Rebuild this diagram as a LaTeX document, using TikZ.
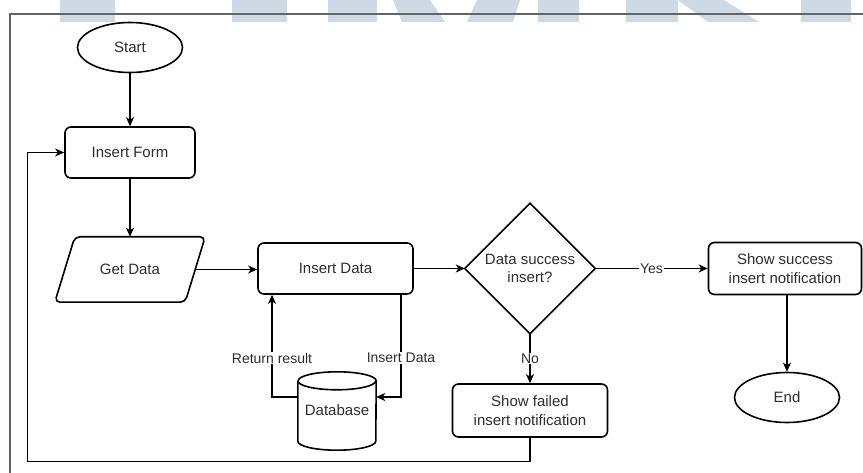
\documentclass[tikz,border=0pt]{standalone}
\usepackage{fontspec}
\setmainfont{Liberation Sans}
\usetikzlibrary{arrows.meta,calc,shapes.geometric}
\definecolor{wm}{RGB}{205,217,228}
\definecolor{txt}{RGB}{45,45,45}
\definecolor{framec}{RGB}{100,100,100}
\newcommand\myNodeFont{\fontsize{15}{18.5}\selectfont}
\newcommand\myLblFont{\fontsize{14}{16}\selectfont}
\begin{document}
\begin{tikzpicture}[x=1pt,y=-1pt,
  shapeline/.style={draw=black, line width=1.6pt},
  procbox/.style={shapeline, rounded corners=6pt, align=center, inner sep=0pt,
    font=\myNodeFont, text=txt},
  term/.style={ellipse, shapeline, align=center, inner sep=0pt,
    minimum width=105pt, minimum height=50pt, font=\myNodeFont, text=txt},
  ghost/.style={inner sep=0pt, align=center, font=\myNodeFont, text=txt},
  conn/.style={draw=black, line width=1.1pt, -{Stealth[length=9pt,width=8pt,inset=2.5pt]}},
  plainline/.style={draw=black, line width=1.1pt},
  lbl/.style={fill=white, inner sep=1pt, font=\myLblFont, text=txt}]
\useasboundingbox (0,0) rectangle (863,473);
% watermark
\fill[wm] (60,0) rectangle (115,22);
\fill[wm] (232,0) rectangle (287,22);
\fill[wm] (328,0) rectangle (377,22);
\fill[wm] (393,0) -- (430,0) -- (445,22) -- (402,22) -- cycle;
\fill[wm] (477,0) -- (520,0) -- (513,22) -- (467,22) -- cycle;
\fill[wm] (538,0) rectangle (579,22);
\fill[wm] (626,0) rectangle (678,22);
\fill[wm] (678,0) -- (724,0) -- (759,22) -- (708,22) -- cycle;
\fill[wm] (801,0) rectangle (851,22);
% frame
\draw[framec, line width=1.4pt] (863,14) -- (10,14) -- (10,473);

% nodes
\node[term] (start) at (130,47.5) {Start};
\node[procbox, minimum width=130pt, minimum height=51pt] (form) at (130,152.5) {Insert Form};
\node[ghost, minimum width=130pt, minimum height=65pt] (get) at (130,269.5) {Get Data};
\draw[shapeline, rounded corners=5pt] ($(get.north west)+(10,0)$) -- ($(get.north east)+(10,0)$)
  -- ($(get.south east)+(-10,0)$) -- ($(get.south west)+(-10,0)$) -- cycle;
\node[procbox, minimum width=155pt, minimum height=51pt] (idata) at (335.5,268.5) {Insert Data};
\node[ghost, minimum width=130pt, minimum height=130pt] (dec) at (530,268.5) {Data success\\insert?};
\draw[shapeline] (dec.north) -- (dec.east) -- (dec.south) -- (dec.west) -- cycle;
\node[procbox, minimum width=153pt, minimum height=52pt] (success) at (785,268.5) {Show success\\insert notification};
\node[term] (endn) at (787,397.5) {End};
\node[procbox, minimum width=155pt, minimum height=53pt] (failed) at (530,410.5) {Show failed\\insert notification};
\node[ghost, minimum width=78pt, minimum height=78pt] (db) at (337,411) {};
\draw[shapeline] ($(db.north west)+(0,9)$) -- ($(db.south west)+(0,-9)$)
  arc[start angle=180, end angle=0, x radius=39, y radius=9]
  -- ($(db.north east)+(0,9)$)
  arc[start angle=0, end angle=-180, x radius=39, y radius=9];
\draw[shapeline] ($(db.north west)+(0,9)$) arc[start angle=180, end angle=0, x radius=39, y radius=9];
\node[ghost] (dblabel) at (337,410) {Database};

% connectors
\draw[conn] (start.south) -- (form.north);
\draw[conn] (form.south) -- (get.north);
\draw[conn] (get.east) -- (get.east -| idata.west);
\draw[conn] (idata.east) -- (dec.west);
\draw[conn] (dec.east) -- node[lbl] {Yes} (dec.east -| success.west);
\draw[conn] (success.south -| endn.north) -- (endn.north);
\draw[conn] (dec.south) -- node[lbl] {No} (failed.north);
\draw[conn] ([yshift=14pt]db.west) -| node[lbl, pos=0.69] {Return result} ([xshift=-63.5pt]idata.south);
\draw[conn] ([xshift=65.5pt]idata.south) |- node[lbl, pos=0.31] {Insert Data} ([yshift=14pt]db.east);
\draw[conn] (failed.south) -- ++(0,24) -| ($(form.west)+(-37,0)$) -- (form.west);
\end{tikzpicture}
\end{document}
